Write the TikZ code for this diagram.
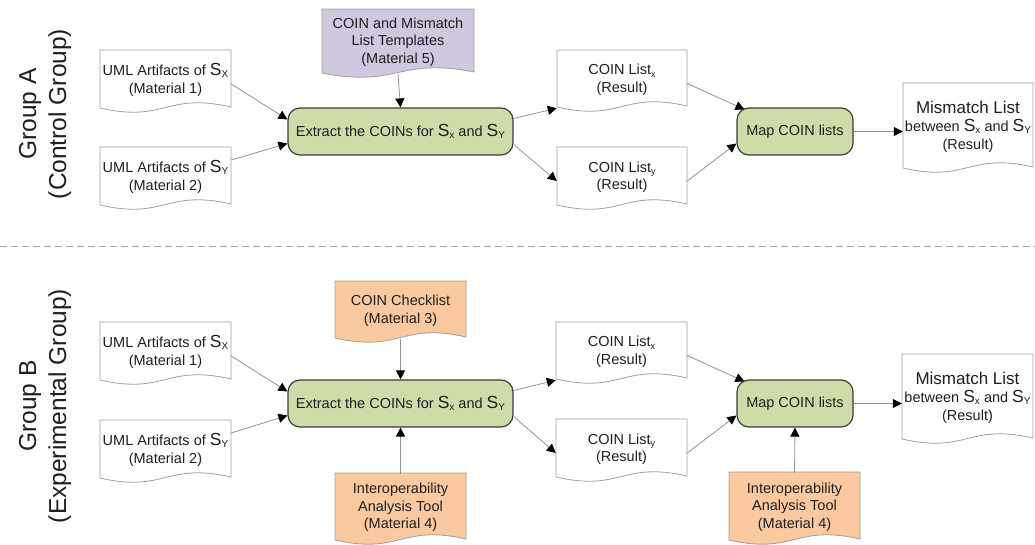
\documentclass[tikz,border=0pt]{standalone}
\usepackage{fontspec}
\setmainfont{Liberation Sans}
\usetikzlibrary{arrows.meta}
\definecolor{procgreen}{HTML}{CDDCA8}
\definecolor{docpurple}{HTML}{D0C8DE}
\definecolor{docorange}{HTML}{FAC9A0}
\definecolor{docline}{HTML}{A0A0A0}
\definecolor{arrline}{HTML}{929292}
\definecolor{procborder}{HTML}{3C3C3C}
\newcommand\bigS[1]{{\fontsize{17.5}{17}\selectfont S}\raisebox{-1.5pt}{\fontsize{10}{10}\selectfont #1}}
\newcommand\lsub[1]{\raisebox{-2.5pt}{\fontsize{9}{9}\selectfont #1}}
\newcommand\docshape[7]{%
  \filldraw[docborder, fill=#6] (#2,#3) -- (#2+#4,#3) -- (#2+#4,#3+#5-1)
    .. controls (#2+0.5*#4,#3+#5-16) and (#2+0.5*#4,#3+#5+15) .. (#2,#3+#5) -- cycle;
  \node[doctext, minimum width=#4pt, minimum height=#5pt] (#1) at (#2+0.5*#4,#3+0.5*#5+1) {#7};}
\tikzset{
  docborder/.style={draw=docline, line width=0.8pt},
  doctext/.style={inner sep=0pt, align=center, text=black!88, font=\fontsize{14.5}{17.5}\selectfont},
  proc/.style={draw=procborder, line width=1.2pt, rounded corners=12pt, fill=procgreen,
    minimum height=47pt, inner sep=0pt, text=black!88, font=\fontsize{14.5}{17.5}\selectfont},
  arr/.style={draw=arrline, line width=0.8pt, -{Triangle[length=9pt,width=9pt,color=black]}},
  grouplabel/.style={rotate=90, align=center, text=black!88, font=\fontsize{24.5}{30}\selectfont},
  sepline/.style={draw=black!35, line width=0.8pt, dash pattern=on 7pt off 4pt}
}
\begin{document}
\begin{tikzpicture}[x=1pt, y=-1pt]
\useasboundingbox (0,0) rectangle (1035,544);
\fill[white] (0,0) rectangle (1035,544);

% group labels and separator
\node[grouplabel] (ga) at (45,114) {Group A\\(Control Group)};
\node[grouplabel] (gb) at (45,406) {Group B\\(Experimental Group)};
\draw[sepline] (0,246) -- (1035,246);

% ---------------- Group A ----------------
\docshape{sxa}{100}{50}{131}{58}{white}{UML Artifacts of \bigS{X}\\(Material 1)}
\docshape{sya}{100}{147}{131}{58}{white}{UML Artifacts of \bigS{Y}\\(Material 2)}
\docshape{tpl}{322}{9}{152}{64}{docpurple}{COIN and Mismatch\\List Templates\\(Material 5)}
\node[proc, minimum width=225pt] (exa) at (400.5,131.5) {Extract the COINs for \bigS{x} and \bigS{Y}};
\docshape{lxa}{557}{50}{130}{57}{white}{COIN List\lsub{x}\\(Result)}
\docshape{lya}{557}{147}{130}{58}{white}{COIN List\lsub{y}\\(Result)}
\node[proc, minimum width=116pt] (mpa) at (795,131.5) {Map COIN lists};
\docshape{mma}{903}{83}{130}{85}{white}{{\fontsize{17}{20}\selectfont Mismatch List}\\[1pt]between \bigS{x} and \bigS{Y}\\(Result)}

\draw[arr] ([yshift=-4pt]sxa.east) -- ([yshift=12pt]exa.west);
\draw[arr] ([yshift=17pt]sya.east) -- ([yshift=-12pt]exa.west);
\draw[arr] (tpl.south) -- (exa.north);
\draw[arr] ([yshift=13pt]exa.east) -- (lxa.south west);
\draw[arr] ([yshift=-13pt]exa.east) -- ([yshift=-4pt]lya.west);
\draw[arr] ([yshift=-4pt]lxa.east) -- ([xshift=8pt,yshift=-2pt]mpa.north west);
\draw[arr] ([yshift=-4pt]lya.east) -- ([yshift=-12pt]mpa.west);
\draw[arr] (mpa.east) -- (mpa.east -| mma.west);

% ---------------- Group B ----------------
\docshape{sxb}{100}{322}{131}{58}{white}{UML Artifacts of \bigS{X}\\(Material 1)}
\docshape{syb}{100}{420}{131}{58}{white}{UML Artifacts of \bigS{Y}\\(Material 2)}
\docshape{chk}{335}{281}{131}{57}{docorange}{COIN Checklist\\(Material 3)}
\node[proc, minimum width=225pt] (exb) at (400.5,403.5) {Extract the COINs for \bigS{x} and \bigS{Y}};
\docshape{tla}{335}{473}{131}{67}{docorange}{Interoperability\\Analysis Tool\\(Material 4)}
\docshape{lxb}{556}{322}{131}{57}{white}{COIN List\lsub{x}\\(Result)}
\docshape{lyb}{556}{419}{131}{58}{white}{COIN List\lsub{y}\\(Result)}
\node[proc, minimum width=116pt] (mpb) at (795,403.5) {Map COIN lists};
\docshape{mmb}{902}{354}{131}{85}{white}{{\fontsize{17}{20}\selectfont Mismatch List}\\[1pt]between \bigS{x} and \bigS{Y}\\(Result)}
\docshape{tlb}{729}{472}{131}{68}{docorange}{Interoperability\\Analysis Tool\\(Material 4)}

\draw[arr] ([yshift=-4pt]sxb.east) -- ([yshift=12pt]exb.west);
\draw[arr] ([yshift=17pt]syb.east) -- ([yshift=-12pt]exb.west);
\draw[arr] (chk.south) -- (exb.north);
\draw[arr] (tla.north) -- (exb.south);
\draw[arr] ([yshift=13pt]exb.east) -- (lxb.south west);
\draw[arr] ([yshift=-13pt]exb.east) -- ([yshift=-4pt]lyb.west);
\draw[arr] ([yshift=-4pt]lxb.east) -- ([xshift=8pt,yshift=-2pt]mpb.north west);
\draw[arr] ([yshift=-4pt]lyb.east) -- ([yshift=-12pt]mpb.west);
\draw[arr] (mpb.east) -- (mpb.east -| mmb.west);
\draw[arr] (tlb.north) -- (mpb.south);
\end{tikzpicture}
\end{document}
